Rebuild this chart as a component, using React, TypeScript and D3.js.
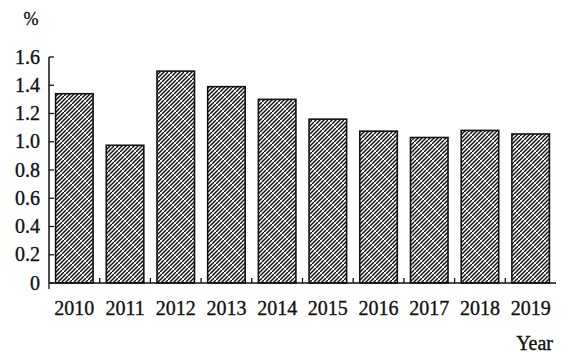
import React from "react";
import * as d3 from "d3";

const years = ["2010", "2011", "2012", "2013", "2014", "2015", "2016", "2017", "2018", "2019"];
const values = [1.34, 0.975, 1.5, 1.39, 1.3, 1.16, 1.075, 1.03, 1.08, 1.055];
const yTicks = [0, 0.2, 0.4, 0.6, 0.8, 1.0, 1.2, 1.4, 1.6];

const W = 564;
const H = 353;
const left = 49;
const right = 556;
const top = 57;
const bottom = 283;

export default function App() {
  const x = d3.scaleBand<string>().domain(years).range([left, right]).paddingInner(0.26).paddingOuter(0.13);
  const y = d3.scaleLinear().domain([0, 1.6]).range([bottom, top]);
  const step = x.step();
  const font = "'Liberation Serif', 'Times New Roman', serif";
  const textProps = { fontFamily: font, fontSize: 20, fill: "#111", stroke: "#111", strokeWidth: 0.35 };
  return (
    <svg width={W} height={H} style={{ position: "absolute", left: 0, top: 0, background: "#fff" }}>
      <defs>
        <pattern id="hatch" patternUnits="userSpaceOnUse" width={4} height={4}>
          <rect width={4} height={4} fill="#fff" />
          <path d="M-1,1 L1,-1 M0,4 L4,0 M3,5 L5,3" stroke="#111" strokeWidth={1.5} />
        </pattern>
        <pattern id="cross" patternUnits="userSpaceOnUse" width={16} height={16}>
          <path d="M-2,-2 L18,18 M-2,14 L2,18 M14,-2 L18,2" stroke="#fff" strokeWidth={1} opacity={0.75} />
        </pattern>
      </defs>
      {years.map((yr, i) => {
        const bx = x(yr)!;
        const by = y(values[i]);
        const bh = bottom - by;
        return (
          <g key={yr}>
            <rect x={bx} y={by} width={x.bandwidth()} height={bh} fill="url(#hatch)" />
            <rect x={bx} y={by} width={x.bandwidth()} height={bh} fill="url(#cross)" />
            <rect x={bx} y={by} width={x.bandwidth()} height={bh} fill="none" stroke="#111" strokeWidth={1.6} />
          </g>
        );
      })}
      <line x1={left} x2={left} y1={top} y2={bottom} stroke="#111" strokeWidth={1.5} />
      {yTicks.map((t) => (
        <g key={t}>
          <line x1={left} x2={left + 5} y1={y(t)} y2={y(t)} stroke="#111" strokeWidth={1.3} />
          <text x={40} y={y(t) + 6.5} textAnchor="end" {...textProps}>
            {t === 0 ? "0" : t.toFixed(1)}
          </text>
        </g>
      ))}
      <line x1={left} x2={right} y1={bottom} y2={bottom} stroke="#111" strokeWidth={1.5} />
      {years.map((yr, i) => (
        <g key={yr}>
          {i > 0 && (
            <line x1={x(yr)! - step * 0.13} x2={x(yr)! - step * 0.13} y1={bottom} y2={bottom - 5} stroke="#111" strokeWidth={1.3} />
          )}
          <text x={x(yr)! + x.bandwidth() / 2} y={315} textAnchor="middle" {...textProps}>
            {yr}
          </text>
        </g>
      ))}
      <line x1={left} x2={left} y1={bottom} y2={bottom + 6} stroke="#111" strokeWidth={1.3} />
      <text x={31} y={25} textAnchor="middle" {...textProps} fontSize={18}>%</text>
      <text x={553} y={350} textAnchor="end" {...textProps}>Year</text>
    </svg>
  );
}
